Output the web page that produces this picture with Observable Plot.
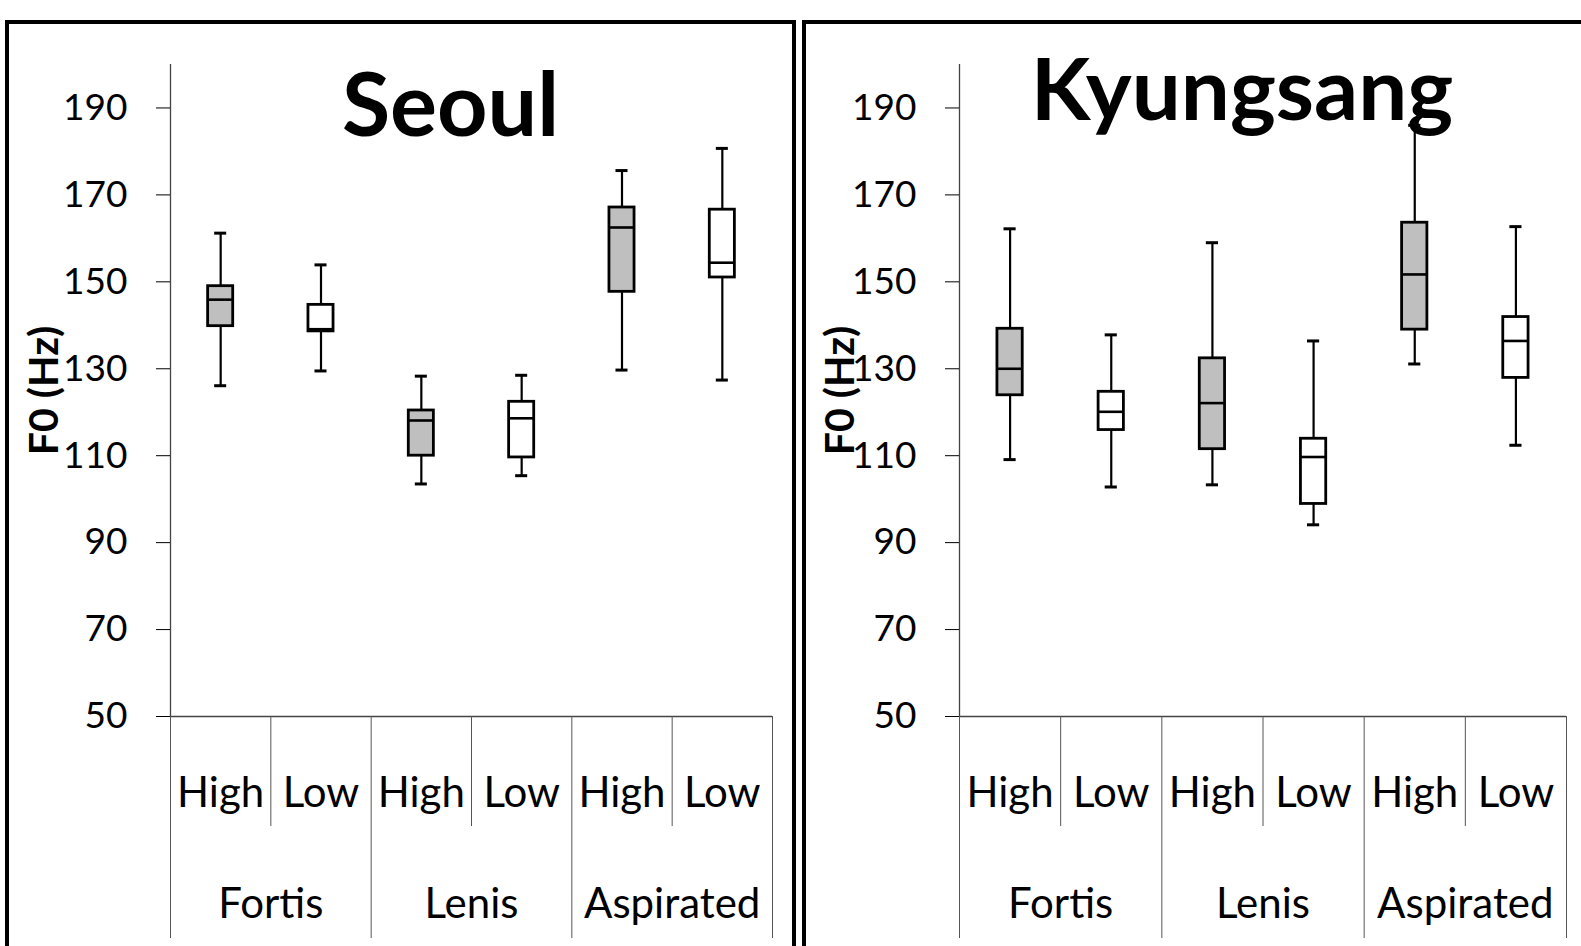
<!DOCTYPE html>
<html>
<head>
<meta charset="utf-8">
<script src="https://cdn.jsdelivr.net/npm/d3@7"></script>
<script src="https://cdn.jsdelivr.net/npm/@observablehq/plot@0.6"></script>
<style>
  html, body { margin: 0; padding: 0; background: #fff; overflow: hidden; width: 1581px; height: 946px; }
  .panel { position: absolute; top: 20px; height: 1000px; border: 4px solid #000; overflow: hidden; background: #fff; }
  .panel svg { display: block; }
</style>
</head>
<body>
<script>
// Stop categories and tone groups along the x axis
const categories = ["Fortis", "Lenis", "Aspirated"];
const tones = ["High", "Low"];
const yTicks = [50, 70, 90, 110, 130, 150, 170, 190];

// F0 summaries (Hz), ordered Fortis High, Fortis Low, Lenis High, Lenis Low, Aspirated High, Aspirated Low
const seoulMin    = [126.1, 129.5, 103.5, 105.4, 129.7, 127.4];
const seoulQ1     = [139.8, 138.6, 110.0, 109.6, 147.7, 151.0];
const seoulMedian = [145.9, 139.1, 118.1, 118.6, 162.5, 154.4];
const seoulQ3     = [149.0, 144.7, 120.4, 122.4, 167.1, 166.6];
const seoulMax    = [161.2, 153.9, 128.3, 128.5, 175.6, 180.7];

const kyungsangMin    = [109.1, 102.8, 103.3,  94.1, 131.1, 112.4];
const kyungsangQ1     = [123.9, 115.9, 111.5,  98.9, 139.0, 127.9];
const kyungsangMedian = [130.0, 120.1, 122.1, 109.7, 151.7, 136.4];
const kyungsangQ3     = [139.2, 124.7, 132.4, 113.9, 163.6, 141.9];
const kyungsangMax    = [162.2, 137.8, 159.0, 136.4, 186.0, 162.7];

const HIGH_FILL = "#bfbfbf";
const BOX = 0.125;   // half box width, in category units
const CAP = 0.06;    // half whisker-cap width

function buildRows(min, q1, median, q3, max) {
  const rows = [];
  categories.forEach((category, ci) => {
    tones.forEach((tone, ti) => {
      const i = ci * tones.length + ti;
      rows.push({category, tone, x: i + 0.5, min: min[i], q1: q1[i], median: median[i], q3: q3[i], max: max[i]});
    });
  });
  return rows;
}

function panel(cfg) {
  const rows = buildRows(cfg.min, cfg.q1, cfg.median, cfg.q3, cfg.max);
  const n = rows.length;
  const groupCenters = categories.map((c, ci) => ci * tones.length + tones.length / 2);
  const innerBounds = d3.range(1, n, 2);
  const outerBounds = d3.range(0, n + 1, 2);

  const chart = Plot.plot({
    width: cfg.width,
    height: 930,
    marginLeft: cfg.marginLeft,
    marginRight: cfg.marginRight,
    marginTop: 40,
    marginBottom: 238,
    x: {type: "linear", domain: [0, n]},
    y: {domain: [50, 200]},
    color: {type: "identity"},
    style: {fontFamily: "Lato, 'Open Sans', sans-serif", color: "#000", background: "#fff", overflow: "visible"},
    marks: [
      // axis lines
      Plot.ruleX([0], {stroke: "#444", strokeWidth: 1.3}),
      Plot.ruleY([50], {stroke: "#444", strokeWidth: 1.3}),
      Plot.axisY({ticks: yTicks, tickSize: 14, tickPadding: 29, fontSize: 37, label: null}),
      // separators of the two-level category axis
      Plot.axisX({ticks: innerBounds, tickSize: 110, tickFormat: () => "", label: null, stroke: "#555"}),
      Plot.axisX({ticks: outerBounds, tickSize: 222, tickFormat: () => "", label: null, stroke: "#555"}),
      Plot.axisX({ticks: rows.map(d => d.x), tickSize: 0, tickPadding: 61, fontSize: 42, label: null,
        tickFormat: v => rows.find(d => d.x === v).tone}),
      Plot.axisX({ticks: groupCenters, tickSize: 0, tickPadding: 172, fontSize: 42, label: null,
        tickFormat: v => categories[groupCenters.indexOf(v)]}),
      // box plots
      Plot.ruleX(rows, {x: "x", y1: "min", y2: "max", stroke: "#000", strokeWidth: 2.2}),
      Plot.ruleY(rows, {y: "min", x1: d => d.x - CAP, x2: d => d.x + CAP, stroke: "#000", strokeWidth: 3}),
      Plot.ruleY(rows, {y: "max", x1: d => d.x - CAP, x2: d => d.x + CAP, stroke: "#000", strokeWidth: 3}),
      Plot.rect(rows, {x1: d => d.x - BOX, x2: d => d.x + BOX, y1: "q1", y2: "q3",
        fill: d => d.tone === "High" ? HIGH_FILL : "#fff", stroke: "#000", strokeWidth: 2.8}),
      Plot.ruleY(rows, {y: "median", x1: d => d.x - BOX, x2: d => d.x + BOX, stroke: "#000", strokeWidth: 2.6}),
      // panel title and y label
      Plot.text([cfg.title], {text: d => d, frameAnchor: "top", dx: cfg.titleDx, dy: cfg.titleDy,
        textAnchor: "middle", lineAnchor: "bottom", fontSize: cfg.titleSize, fontWeight: "bold", fill: "#000"}),
      Plot.text(["F0 (Hz)"], {text: d => d, frameAnchor: "left", dx: cfg.labelDx, rotate: -90,
        textAnchor: "middle", lineAnchor: "middle", fontSize: 41, fontWeight: "bold", fill: "#000"})
    ]
  });

  const box = document.createElement("div");
  box.className = "panel";
  box.style.left = cfg.left + "px";
  box.style.width = cfg.width + "px";
  box.appendChild(chart);
  document.body.appendChild(box);
}

panel({title: "Seoul", min: seoulMin, q1: seoulQ1, median: seoulMedian, q3: seoulQ3, max: seoulMax,
  left: 5, width: 783, marginLeft: 161, marginRight: 20,
  titleDx: -21, titleDy: 71, titleSize: 88, labelDx: -126});

panel({title: "Kyungsang", min: kyungsangMin, q1: kyungsangQ1, median: kyungsangMedian, q3: kyungsangQ3, max: kyungsangMax,
  left: 802, width: 790, marginLeft: 153, marginRight: 30,
  titleDx: -21, titleDy: 55, titleSize: 87, labelDx: -119});
</script>
</body>
</html>
